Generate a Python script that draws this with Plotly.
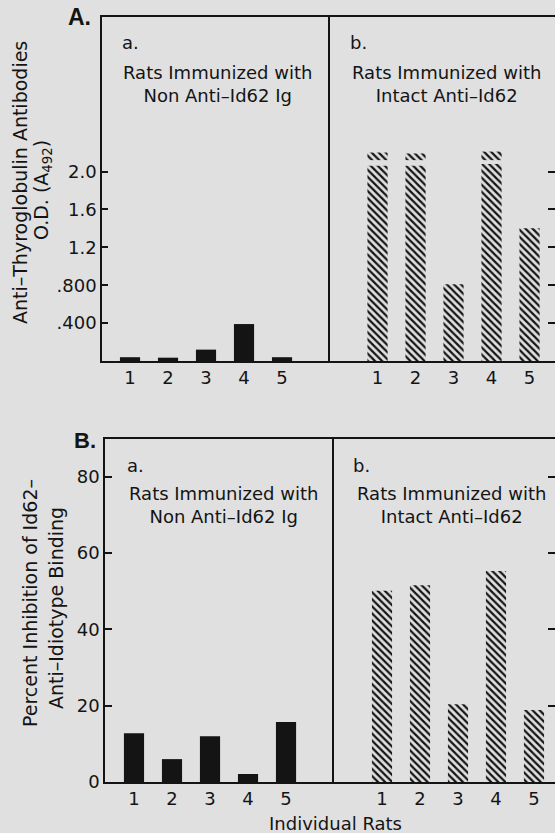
import plotly.graph_objects as go

# ---------------- data ----------------
rats = [1, 2, 3, 4, 5]
rat_labels = ["1", "2", "3", "4", "5"]

# Panel A: Anti-Thyroglobulin antibodies, O.D. (A492)
A_non_anti = [0.04, 0.035, 0.12, 0.39, 0.04]
A_intact = [2.06, 2.06, 0.81, 2.08, 1.40]
A_intact_cap_low = [2.12, 2.12, None, 2.12, None]   # broken-off top segments
A_intact_cap_high = [2.20, 2.19, None, 2.21, None]
A_ticks = [0.4, 0.8, 1.2, 1.6, 2.0]
A_ticktext = [".400", ".800", "1.2", "1.6", "2.0"]

# Panel B: Percent inhibition of Id62 - anti-idiotype binding
B_non_anti = [12.8, 6.0, 12.0, 2.1, 15.7]
B_intact = [50.1, 51.6, 20.4, 55.3, 18.9]
B_ticks = [0, 20, 40, 60, 80]
B_ticktext = ["0", "20", "40", "60", "80"]

# ---------------- styling ----------------
W, H = 555, 833
BG = "#e0e0e0"
INK = "#141414"
FONT = "DejaVu Sans"
BAR_W = 0.53


def px_x(p):
    return p / W


def px_y(p):
    return 1 - p / H


fig = go.Figure()

hatch = dict(shape="\\", size=5, solidity=0.45, fgcolor=INK, bgcolor=BG, fillmode="replace")

# Panel A bars
fig.add_trace(go.Bar(x=rats, y=A_non_anti, width=BAR_W, marker=dict(color=INK, line=dict(width=0)),
                     xaxis="x", yaxis="y", showlegend=False))
fig.add_trace(go.Bar(x=rats, y=A_intact, width=BAR_W,
                     marker=dict(color=BG, line=dict(width=0), pattern=hatch),
                     xaxis="x2", yaxis="y2", showlegend=False))
cap_x = [r for r, lo in zip(rats, A_intact_cap_low) if lo is not None]
cap_base = [lo for lo in A_intact_cap_low if lo is not None]
cap_h = [hi - lo for lo, hi in zip(A_intact_cap_low, A_intact_cap_high) if lo is not None]
fig.add_trace(go.Bar(x=cap_x, y=cap_h, base=cap_base, width=BAR_W,
                     marker=dict(color=BG, line=dict(width=0), pattern=hatch),
                     xaxis="x2", yaxis="y2", showlegend=False))

# Panel B bars
fig.add_trace(go.Bar(x=rats, y=B_non_anti, width=BAR_W, marker=dict(color=INK, line=dict(width=0)),
                     xaxis="x3", yaxis="y3", showlegend=False))
fig.add_trace(go.Bar(x=rats, y=B_intact, width=BAR_W,
                     marker=dict(color=BG, line=dict(width=0), pattern=hatch),
                     xaxis="x4", yaxis="y4", showlegend=False))

tickfont = dict(family=FONT, size=18, color=INK)

xcommon = dict(showline=True, mirror=True, linecolor=INK, linewidth=1.6, ticks="",
               tickvals=rats, ticktext=rat_labels, tickfont=tickfont, showgrid=False,
               zeroline=False, fixedrange=True)

A_dom_y = [px_y(361), px_y(17)]
B_dom_y = [px_y(782), px_y(439)]
A_top = 344 / 94.75
B_top = 343 / 3.815

layout = dict(
    width=W, height=H, margin=dict(l=0, r=0, t=0, b=0, autoexpand=False),
    paper_bgcolor=BG, plot_bgcolor=BG, barmode="overlay",
    xaxis=dict(xcommon, domain=[px_x(102), px_x(328)], range=[0.263, 6.21], anchor="y"),
    xaxis2=dict(xcommon, domain=[px_x(328), 1.0], range=[-0.303, 5.67], anchor="y2"),
    xaxis3=dict(xcommon, domain=[px_x(105), px_x(332)], range=[0.237, 6.21], anchor="y3"),
    xaxis4=dict(xcommon, domain=[px_x(332), 1.0], range=[-0.316, 5.553], anchor="y4"),
    yaxis=dict(domain=A_dom_y, range=[0, A_top], anchor="x", showline=True, mirror=True,
               linecolor=INK, linewidth=1.6, ticks="inside", ticklen=6, tickwidth=1.5,
               tickcolor=INK, tickvals=A_ticks, ticktext=A_ticktext, tickfont=tickfont,
               showgrid=False, zeroline=False, fixedrange=True),
    yaxis2=dict(domain=A_dom_y, range=[0, A_top], anchor="x2", side="right", showline=False,
                ticks="inside", ticklen=7, tickwidth=1.5, tickcolor=INK, tickvals=A_ticks,
                showticklabels=False, showgrid=False, zeroline=False, fixedrange=True),
    yaxis3=dict(domain=B_dom_y, range=[0, B_top], anchor="x3", showline=True, mirror=True,
                linecolor=INK, linewidth=1.6, ticks="inside", ticklen=7, tickwidth=1.5,
                tickcolor=INK, tickvals=B_ticks, ticktext=B_ticktext, tickfont=tickfont,
                showgrid=False, zeroline=False, fixedrange=True),
    yaxis4=dict(domain=B_dom_y, range=[0, B_top], anchor="x4", side="right", showline=False,
                ticks="inside", ticklen=7, tickwidth=1.5, tickcolor=INK, tickvals=B_ticks,
                showticklabels=False, showgrid=False, zeroline=False, fixedrange=True),
)
fig.update_layout(**layout)


def note(text, x, y, size=18, xanchor="left", angle=0, bold=False, family=FONT):
    fig.add_annotation(
        text=text, x=px_x(x), y=px_y(y), xref="paper", yref="paper",
        xanchor=xanchor, yanchor="middle", textangle=angle, showarrow=False,
        font=dict(family=family, size=size, color=INK, weight="bold" if bold else "normal"),
    )


# panel letters
note("A.", 79, 17, size=23, xanchor="center", bold=True, family="Liberation Sans")
note("B.", 85, 440, size=22, xanchor="center", bold=True, family="Liberation Sans")

# sub-panel labels
note("a.", 120, 43)
note("Rats Immunized with<br>Non Anti–Id62 Ig", 217, 84, xanchor="center")
note("b.", 348, 43)
note("Rats Immunized with<br>Intact Anti–Id62", 446, 84, xanchor="center")
note("a.", 125, 465)
note("Rats Immunized with<br>Non Anti–Id62 Ig", 223, 505, xanchor="center")
note("b.", 351, 465)
note("Rats Immunized with<br>Intact Anti–Id62", 451, 505, xanchor="center")

# y-axis titles
note("Anti–Thyroglobulin Antibodies", 20, 183, size=19, xanchor="center", angle=-90)
note("O.D. (A<sub>492</sub>)", 42, 190, size=19, xanchor="center", angle=-90)
note("Percent Inhibition of Id62–", 30, 603, size=19, xanchor="center", angle=-90)
note("Anti–Idiotype Binding", 56, 608, size=19, xanchor="center", angle=-90)

# x-axis title
note("Individual Rats", 335, 823, size=18, xanchor="center")

fig.write_html("out.html")
